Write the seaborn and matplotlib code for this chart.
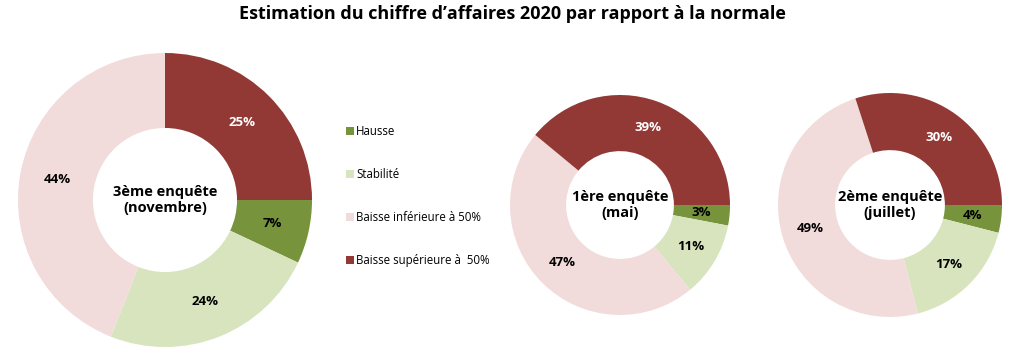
import matplotlib
matplotlib.use("Agg")
import matplotlib.pyplot as plt
import seaborn as sns
from matplotlib.patches import Patch

sns.set_theme(style="white")
plt.rcParams['font.family'] = ['Open Sans', 'DejaVu Sans']
plt.rcParams['text.color'] = 'black'

categories = ["Hausse", "Stabilité", "Baisse inférieure à 50%", "Baisse supérieure à  50%"]
colors = ["#77933C", "#D7E4BD", "#F2DCDB", "#923936"]
label_colors = ["black", "black", "black", "white"]

survey3 = [7, 24, 44, 25]
survey1 = [3, 11, 47, 39]
survey2 = [4, 17, 49, 30]
titles = ["3ème enquête\n(novembre)", "1ère enquête\n(mai)", "2ème enquête\n(juillet)"]

W, H = 1024, 362
fig = plt.figure(figsize=(W / 100, H / 100), dpi=100)

def donut(vals, title, left, bottom, size):
    ax = fig.add_axes([left / W, bottom / H, size / W, size / H])
    wedges, _, autotexts = ax.pie(
        vals, colors=colors, startangle=0, counterclock=False,
        radius=1, wedgeprops=dict(width=0.51, edgecolor="none"),
        autopct=lambda p: f"{p:.0f}%", pctdistance=0.745,
        textprops=dict(fontsize=9.5, fontweight="bold"))
    for t, c in zip(autotexts, label_colors):
        t.set_color(c)
    ax.text(0, 0, title, ha="center", va="center", fontsize=10.5,
            fontweight="bold", linespacing=1.25, color="black")
    ax.set_xlim(-1, 1)
    ax.set_ylim(-1, 1)
    ax.set_aspect("equal")
    ax.axis("off")

donut(survey3, titles[0], 18, 15, 294)
donut(survey1, titles[1], 510, 47, 220)
donut(survey2, titles[2], 778, 45, 224)

handles = [Patch(facecolor=c, edgecolor="none") for c in colors]
leg = fig.legend(handles, categories, loc="upper left", bbox_to_anchor=(341 / W, 1 - 120 / H),
                 frameon=False, fontsize=8.3, handlelength=0.7, handleheight=0.7,
                 handletextpad=0.2, labelspacing=2.62, borderaxespad=0)
for t in leg.get_texts():
    t.set_color("black")

fig.text(0.5, 1 - 14 / H, "Estimation du chiffre d’affaires 2020 par rapport à la normale",
         ha="center", va="center", fontsize=13, fontweight="bold", color="black")

fig.savefig("out.png", dpi=100)
